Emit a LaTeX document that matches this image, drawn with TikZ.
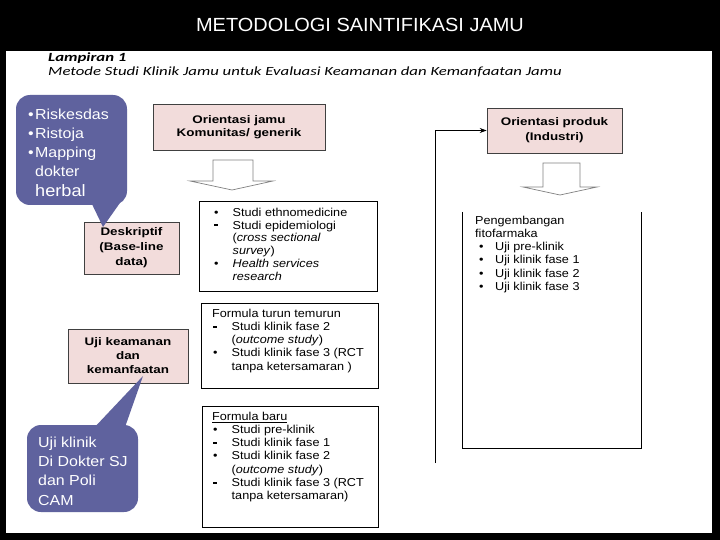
\documentclass[tikz,border=0pt]{standalone}
\usepackage{fontspec}
\setmainfont{Liberation Sans}[FakeStretch=1.1]
\newfontfamily\titlefont{Liberation Sans}[FakeStretch=1.05]
\newfontfamily\boxfont{Liberation Sans}[FakeStretch=1.22]
\newfontfamily\calib{Carlito}[FakeStretch=1.34]
\usetikzlibrary{arrows.meta}
\definecolor{calloutcol}{RGB}{95,98,158}
\definecolor{pinkbox}{RGB}{242,220,219}
\newcommand\lbul{\makebox[19.5pt][l]{\hspace{1pt}\textbullet}}
\newcommand\lsq{\makebox[19.5pt][l]{\hspace{1pt}\rule[2.6pt]{3.5pt}{2pt}}}
\newcommand\lind{\hspace*{19.5pt}}
\newcommand\pbul{\hspace*{4pt}\makebox[16pt][l]{\textbullet}}
\newcommand\cbul{\makebox[7pt][l]{\textbullet}}
\begin{document}
\begin{tikzpicture}[x=1pt,y=-1pt,
  pinknode/.style={draw=black!75, line width=0.7pt, fill=pinkbox, align=center, inner sep=0pt, font=\boxfont\bfseries\fontsize{11}{13}\selectfont},
  listbox/.style={draw=black, line width=0.9pt, inner sep=0pt},
  listtext/.style={anchor=north west, inner sep=0pt, align=left, font=\fontsize{11.5}{13.2}\selectfont},
  calloutbox/.style={fill=calloutcol, rounded corners=14pt, inner sep=0pt},
  callouttext/.style={anchor=north west, inner sep=0pt, align=left, text=white, font=\fontsize{14.5}{19.2}\selectfont},
  blockarrow/.style={draw=black!50, fill=white, line width=0.7pt, line join=miter},
]
\useasboundingbox (0,0) rectangle (720,540);
\fill[black] (0,0) rectangle (720,540);
\fill[white] (6,51) rectangle (712,533);

\node[text=white, font=\titlefont\fontsize{19}{22}\selectfont] (title) at (360,25) {METODOLOGI SAINTIFIKASI JAMU};
\node[anchor=base west, inner sep=0pt, font=\calib\bfseries\itshape\fontsize{12.5}{15}\selectfont] (lamp) at (48,62) {Lampiran 1};
\node[anchor=base west, inner sep=0pt, font=\calib\itshape\fontsize{12.5}{15}\selectfont] (sub) at (48,75.5) {Metode Studi Klinik Jamu untuk Evaluasi Keamanan dan Kemanfaatan Jamu};

% pink boxes
\node[pinknode, minimum width=172pt, minimum height=46pt] (o1) at (239,127) {Orientasi jamu\\Komunitas/ generik};
\node[pinknode, minimum width=135pt, minimum height=45pt] (o2) at (554.5,130.5) {Orientasi produk\\[2pt](Industri)};
\node[pinknode, minimum width=95pt, minimum height=52pt] (d) at (131.5,248) {Deskriptif\\[2pt](Base-line\\[2pt]data)};
\node[pinknode, minimum width=120pt, minimum height=54pt] (u) at (128,356) {Uji keamanan\\[1pt]dan\\[1pt]kemanfaatan};

% block arrows
\draw[blockarrow] (213,160) -- (253,160) -- (253,181) -- (273,181) -- (232,190) -- (190,181) -- (213,181) -- cycle;
\draw[blockarrow] (543,163) -- (580,163) -- (580,187) -- (597,187) -- (560,195) -- (523,187) -- (543,187) -- cycle;

% list boxes
\node[listbox, minimum width=178pt, minimum height=90pt] (l1) at (288,246) {};
\node[listtext, font=\fontsize{11.5}{12.8}\selectfont] (l1t) at (213,207.7) {\lbul Studi ethnomedicine\\ \lsq Studi epidemiologi\\ \lind(\textit{cross sectional}\\ \lind\textit{survey})\\ \lbul\textit{Health services}\\ \lind\textit{research}};

\node[listbox, minimum width=177pt, minimum height=85pt] (l2) at (289.5,345.5) {};
\node[listtext] (l2t) at (212,308.7) {Formula turun temurun\\ \lsq Studi klinik fase 2\\ \lind(\textit{outcome study})\\ \lbul Studi klinik fase 3 (RCT\\ \lind tanpa ketersamaran )};

\node[listbox, minimum width=176pt, minimum height=121pt] (l3) at (290,466.5) {};
\node[listtext] (l3t) at (212,411.7) {\underline{Formula baru}\\ \lbul Studi pre-klinik\\ \lsq Studi klinik fase 1\\ \lbul Studi klinik fase 2\\ \lind(\textit{outcome study})\\ \lsq Studi klinik fase 3 (RCT\\ \lind tanpa ketersamaran)};

% product box (open top)
\node[inner sep=0pt, minimum width=178pt, minimum height=236pt] (p) at (552,330) {};
\draw[line width=1.1pt] (p.north west) -- (p.south west) -- (p.south east) -- (p.north east);
\node[listtext] (pt) at (475,215.7) {Pengembangan\\fitofarmaka\\ \pbul Uji pre-klinik\\ \pbul Uji klinik fase 1\\ \pbul Uji klinik fase 2\\ \pbul Uji klinik fase 3};

% connector
\coordinate (lb) at (435,463);
\draw[line width=0.8pt, -{Stealth[length=7pt,width=5pt]}] (lb) |- (o2.west);

% callouts
\node[calloutbox, minimum width=111pt, minimum height=110pt] (c1) at (71.5,150) {};
\fill[calloutcol] (90,200) -- (122,200) -- (103,227) -- cycle;
\node[callouttext] (c1t) at (28,108.6) {\cbul Riskesdas\\ \cbul Ristoja\\ \cbul Mapping\\ \hspace*{7pt}dokter\\ \hspace*{7pt}{\fontsize{16.5}{19.2}\selectfont herbal}};

\node[calloutbox, minimum width=111pt, minimum height=87pt] (c2) at (82.5,468.5) {};
\fill[calloutcol] (92,430) -- (124,430) -- (143,376) -- cycle;
\node[callouttext] (c2t) at (38,436.7) {Uji klinik\\Di Dokter SJ\\dan Poli\\CAM};
\end{tikzpicture}
\end{document}
